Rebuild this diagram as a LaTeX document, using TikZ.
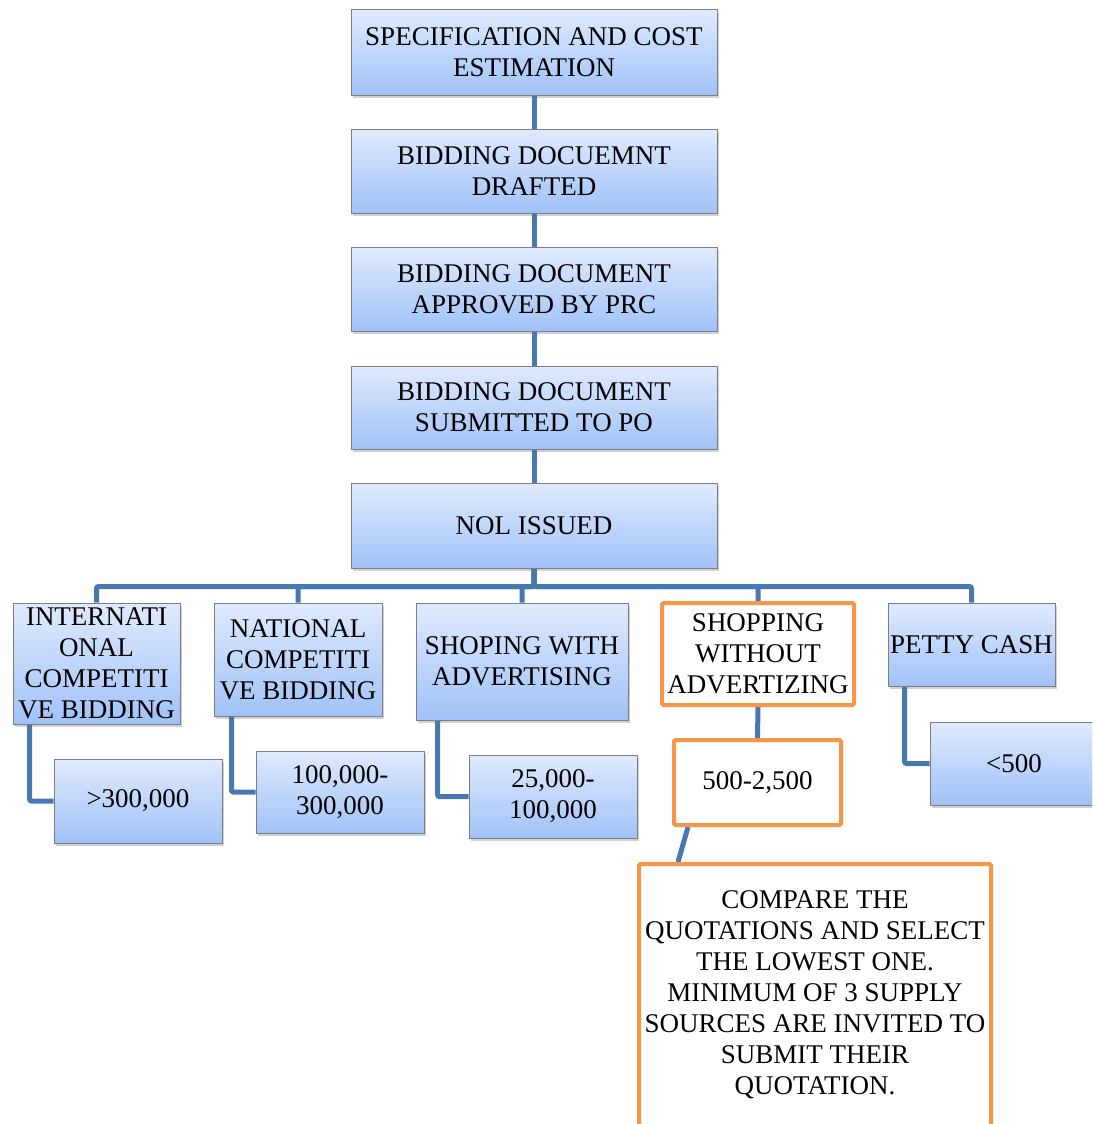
\documentclass[tikz,border=0pt]{standalone}
\usepackage{fontspec}
\setmainfont{Liberation Serif}
\usetikzlibrary{shadows,backgrounds}
\definecolor{linkblue}{RGB}{72,120,176}
\definecolor{boxtop}{RGB}{224,234,253}
\definecolor{boxbot}{RGB}{160,194,248}
\definecolor{boxedge}{RGB}{125,125,130}
\definecolor{orangeedge}{RGB}{247,150,70}
\tikzset{
  bluebox/.style={draw=boxedge, line width=1pt, top color=boxtop, bottom color=boxbot,
    inner sep=0pt, align=center, font=\fontsize{27}{31}\selectfont,
    drop shadow={shadow xshift=2pt, shadow yshift=-3pt, opacity=0.3, fill=black!60}},
  orangebox/.style={draw=orangeedge, line width=4pt, fill=white, rounded corners=1.5pt,
    inner sep=0pt, align=center, font=\fontsize{27}{31}\selectfont},
  link/.style={draw=linkblue, line width=5pt, rounded corners=2pt}
}
\begin{document}
\begin{tikzpicture}[x=1pt,y=-1pt]
\useasboundingbox (0,0) rectangle (1092,1124);
\clip (0,0) rectangle (1092,1124);
% main chain
\node[bluebox, minimum width=366pt, minimum height=85pt] (b1) at (534,52.5) {SPECIFICATION AND COST\\ESTIMATION};
\node[bluebox, minimum width=366pt, minimum height=84pt] (b2) at (534,171) {BIDDING DOCUEMNT\\DRAFTED};
\node[bluebox, minimum width=366pt, minimum height=84pt] (b3) at (534,289) {BIDDING DOCUMENT\\APPROVED BY PRC};
\node[bluebox, minimum width=366pt, minimum height=83pt] (b4) at (534,407.5) {BIDDING DOCUMENT\\SUBMITTED TO PO};
\node[bluebox, minimum width=366pt, minimum height=85pt] (nol) at (534,525.5) {NOL ISSUED};
% methods
\node[bluebox, minimum width=167pt, minimum height=121pt] (intl) at (96.5,663.5) {INTERNATI\\ONAL\\COMPETITI\\VE BIDDING};
\node[bluebox, minimum width=168pt, minimum height=113pt] (natl) at (298,659.5) {NATIONAL\\COMPETITI\\VE BIDDING};
\node[bluebox, minimum width=212pt, minimum height=117pt] (shw) at (522,661.5) {SHOPING WITH\\ADVERTISING};
\node[orangebox, minimum width=192pt, minimum height=102pt] (shwo) at (758,654) {SHOPPING\\WITHOUT\\ADVERTIZING};
\node[bluebox, minimum width=167pt, minimum height=83pt] (petty) at (971.5,644.5) {PETTY CASH};
% ranges
\node[bluebox, minimum width=168pt, minimum height=84pt] (r1) at (138,801) {>300,000};
\node[bluebox, minimum width=168pt, minimum height=82pt] (r2) at (340,792) {100,000-\\300,000};
\node[bluebox, minimum width=168pt, minimum height=83pt] (r3) at (553,796.5) {25,000-\\100,000};
\node[orangebox, minimum width=167pt, minimum height=85pt] (r4) at (757.5,782.5) {500-2,500};
\node[bluebox, minimum width=168pt, minimum height=83pt] (r5) at (1014,763.5) {<500};
% final note
\node[orangebox, minimum width=352pt, minimum height=262pt] (note) at (815,995)
  {COMPARE THE\\QUOTATIONS AND SELECT\\THE LOWEST ONE.\\MINIMUM OF 3 SUPPLY\\SOURCES ARE INVITED TO\\SUBMIT THEIR\\QUOTATION.};
% connectors
\begin{scope}[on background layer]
\draw[link] (b1) -- (b2);
\draw[link] (b2) -- (b3);
\draw[link] (b3) -- (b4);
\draw[link] (b4) -- (nol);
\foreach \c in {intl,natl,shw,shwo,petty}
  \draw[link] (nol.south) -- ++(0,18) -| (\c.north);
\draw[link] ([xshift=17pt]intl.south west) |- (r1.west);
\draw[link] ([xshift=18pt]natl.south west) |- (r2.west);
\draw[link] ([xshift=22pt]shw.south west) |- (r3.west);
\draw[link] ([xshift=17pt]petty.south west) |- (r5.west);
\draw[link] (shwo.south) -- (r4.north);
\draw[link] ([xshift=16pt]r4.south west) -- ([xshift=41pt]note.north west);
\end{scope}
\end{tikzpicture}
\end{document}
